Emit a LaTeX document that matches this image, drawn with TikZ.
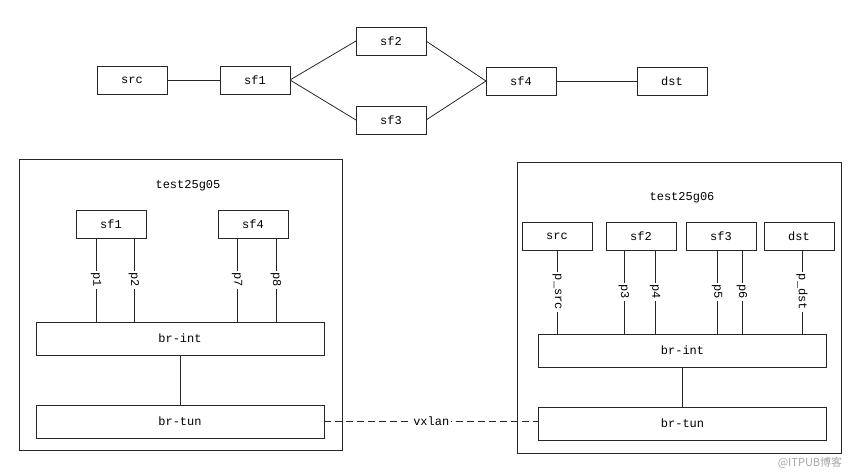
\documentclass[tikz,border=0pt]{standalone}
\usepackage{fontspec}
\setmonofont{Liberation Mono}
\newfontfamily\cjkfont{Noto Sans CJK SC}
\begin{document}
\begin{tikzpicture}[x=1pt,y=-1pt,inner sep=0pt,outer sep=0pt,line width=0.8pt,draw=black!85,
font=\ttfamily\fontsize{12}{14}\selectfont,
box/.style={draw,rectangle,minimum width=70pt,minimum height=28pt},
bridge/.style={draw,rectangle,minimum width=288pt,minimum height=33pt},
port/.style={fill=white,rotate=-90,inner sep=1.5pt}]
\useasboundingbox (0,0) rectangle (865,476);
% service chain
\draw (132,80) node[box] (src) {src};
\draw (255,80) node[box] (sf1) {sf1};
\draw (391,41) node[box] (sf2) {sf2};
\draw (391,120) node[box] (sf3) {sf3};
\draw (521,81) node[box] (sf4) {sf4};
\draw (672,81) node[box] (dst) {dst};
\draw (src) -- (sf1);
\draw (sf1.east) -- (sf2.west);
\draw (sf1.east) -- (sf3.west);
\draw (sf2.east) -- (sf4.west);
\draw (sf3.east) -- (sf4.west);
\draw (sf4) -- (dst);
% host test25g05
\draw (19,159) rectangle (342,450);
\draw (188,186) node (hostA) {test25g05};
\draw (111,224) node[box] (sf1A) {sf1};
\draw (253,224) node[box] (sf4A) {sf4};
\draw (180,338.5) node[bridge] (brintA) {br-int};
\draw (180,421.5) node[bridge] (brtunA) {br-tun};
\draw ([xshift=-15pt]sf1A.south) -- ([xshift=-15pt]sf1A.south |- brintA.north) node[midway,port] {p1};
\draw ([xshift=23pt]sf1A.south) -- ([xshift=23pt]sf1A.south |- brintA.north) node[midway,port] {p2};
\draw ([xshift=-16pt]sf4A.south) -- ([xshift=-16pt]sf4A.south |- brintA.north) node[midway,port] {p7};
\draw ([xshift=23pt]sf4A.south) -- ([xshift=23pt]sf4A.south |- brintA.north) node[midway,port] {p8};
\draw (brintA) -- (brtunA);
% host test25g06
\draw (517,162) rectangle (841,453);
\draw (682,198) node (hostB) {test25g06};
\draw (557,236) node[box] (srcB) {src};
\draw (641,236) node[box] (sf2B) {sf2};
\draw (721,236) node[box] (sf3B) {sf3};
\draw (799,236) node[box] (dstB) {dst};
\draw (682.5,350.5) node[bridge] (brintB) {br-int};
\draw (682.5,423.5) node[bridge] (brtunB) {br-tun};
\draw (srcB.south) -- (srcB.south |- brintB.north) node[midway,port] {p\_src};
\draw ([xshift=-17pt]sf2B.south) -- ([xshift=-17pt]sf2B.south |- brintB.north) node[midway,port] {p3};
\draw ([xshift=14pt]sf2B.south) -- ([xshift=14pt]sf2B.south |- brintB.north) node[midway,port] {p4};
\draw ([xshift=-4pt]sf3B.south) -- ([xshift=-4pt]sf3B.south |- brintB.north) node[midway,port] {p5};
\draw ([xshift=21pt]sf3B.south) -- ([xshift=21pt]sf3B.south |- brintB.north) node[midway,port] {p6};
\draw ([xshift=3pt]dstB.south) -- ([xshift=3pt]dstB.south |- brintB.north) node[midway,port] {p\_dst};
\draw (brintB) -- (brtunB);
% tunnel
\draw[dash pattern=on 7pt off 4pt] (brtunA.east) -- node[fill=white,inner sep=1.5pt] {vxlan} (brtunA.east -| brtunB.west);
\draw (810,463) node[text=black!35,font=\cjkfont\fontsize{11}{13}\selectfont] (mark) {@ITPUB博客};
\end{tikzpicture}
\end{document}
